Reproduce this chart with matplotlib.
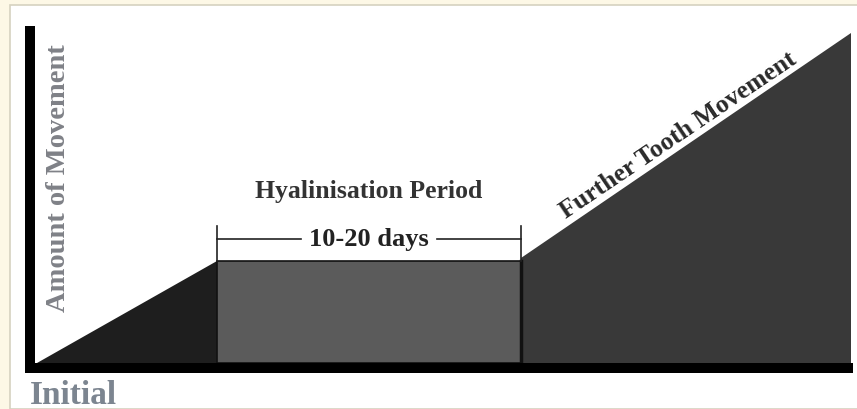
import matplotlib.pyplot as plt
from matplotlib.patches import Rectangle

# phase boundaries along time (arbitrary units) and amount of movement
phase_x = [0, 18.0, 48.4, 81.4]
initial_y = [0, 10.2]
hyal_y = [10.2, 10.2]
further_y = [10.5, 33.0]

phase_colors = ['#1e1e1e', '#5b5b5b', '#393939']

hyal_label = 'Hyalinisation Period'
hyal_days = '10-20 days'
further_label = 'Further Tooth Movement'
y_label = 'Amount of Movement'
x_label = 'Initial'

serif = ['Liberation Serif', 'DejaVu Serif']

fig = plt.figure(figsize=(8.57, 4.09), dpi=100, facecolor='#fdf8e6')
# white panel with a thin border
fig.patches.append(Rectangle((10 / 857, 0), 1, 404 / 409, transform=fig.transFigure,
                             facecolor='white', edgecolor='#d6d2c0', linewidth=1.2, zorder=-10))

ax = fig.add_axes([30 / 857, 41 / 409, 823 / 857, 337 / 409])
ax.set_facecolor('none')
ax.set_xlim(-0.7, 81.6)
ax.set_ylim(-0.5, 33.2)

x0, x1, x2, x3 = phase_x
# initial movement
ax.fill([x0, x1, x1], [initial_y[0], initial_y[1], 0], color=phase_colors[0], lw=0)
# hyalinisation period
ax.fill([x1, x2, x2, x1], [0, 0, hyal_y[1], hyal_y[0]], facecolor=phase_colors[1],
        edgecolor='#111111', lw=1.2)
# further tooth movement
ax.fill([x2, x2, x3, x3], [0, further_y[0], further_y[1], 0], color=phase_colors[2], lw=0)
ax.plot([x2, x2], [0, hyal_y[1]], color='#111111', lw=2.5)

# bracket for hyalinisation period
yb = hyal_y[0] + 2.2
ax.plot([x1, x1], [hyal_y[0], hyal_y[0] + 3.5], color='#222222', lw=1.2)
ax.plot([x2, x2], [hyal_y[0], hyal_y[0] + 3.5], color='#222222', lw=1.2)
xm = (x1 + x2) / 2
ax.plot([x1, xm - 6.8], [yb, yb], color='#222222', lw=1.2)
ax.plot([xm + 6.8, x2], [yb, yb], color='#222222', lw=1.2)
ax.text(xm, yb, hyal_days, ha='center', va='center', fontsize=19, fontweight='bold',
        family=serif, color='#222222')
ax.text(xm, hyal_y[0] + 7.0, hyal_label, ha='center', va='center', fontsize=18.5,
        fontweight='bold', family=serif, color='#333333')

# label along the slope
ax.text(64.1, 22.8, further_label, ha='center', va='center', fontsize=18.5,
        fontweight='bold', family=serif, color='#2a2a2a', rotation=34,
        rotation_mode='anchor')

ax.spines[['top', 'right']].set_visible(False)
ax.spines[['left', 'bottom']].set_linewidth(7.2)
ax.spines[['left', 'bottom']].set_color('black')
ax.spines['bottom'].set_capstyle('butt')
ax.set_xticks([])
ax.set_yticks([])

fig.text(59 / 857, 1 - 178 / 409, y_label, rotation=90, ha='center', va='center',
         fontsize=20.5, fontweight='bold', family=serif, color='#7f8187')
fig.text(30 / 857, 1 - 395 / 409, x_label, ha='left', va='center', fontsize=24,
         fontweight='bold', family=serif, color='#7c8590')

fig.savefig('out.png', dpi=100, facecolor=fig.get_facecolor())
